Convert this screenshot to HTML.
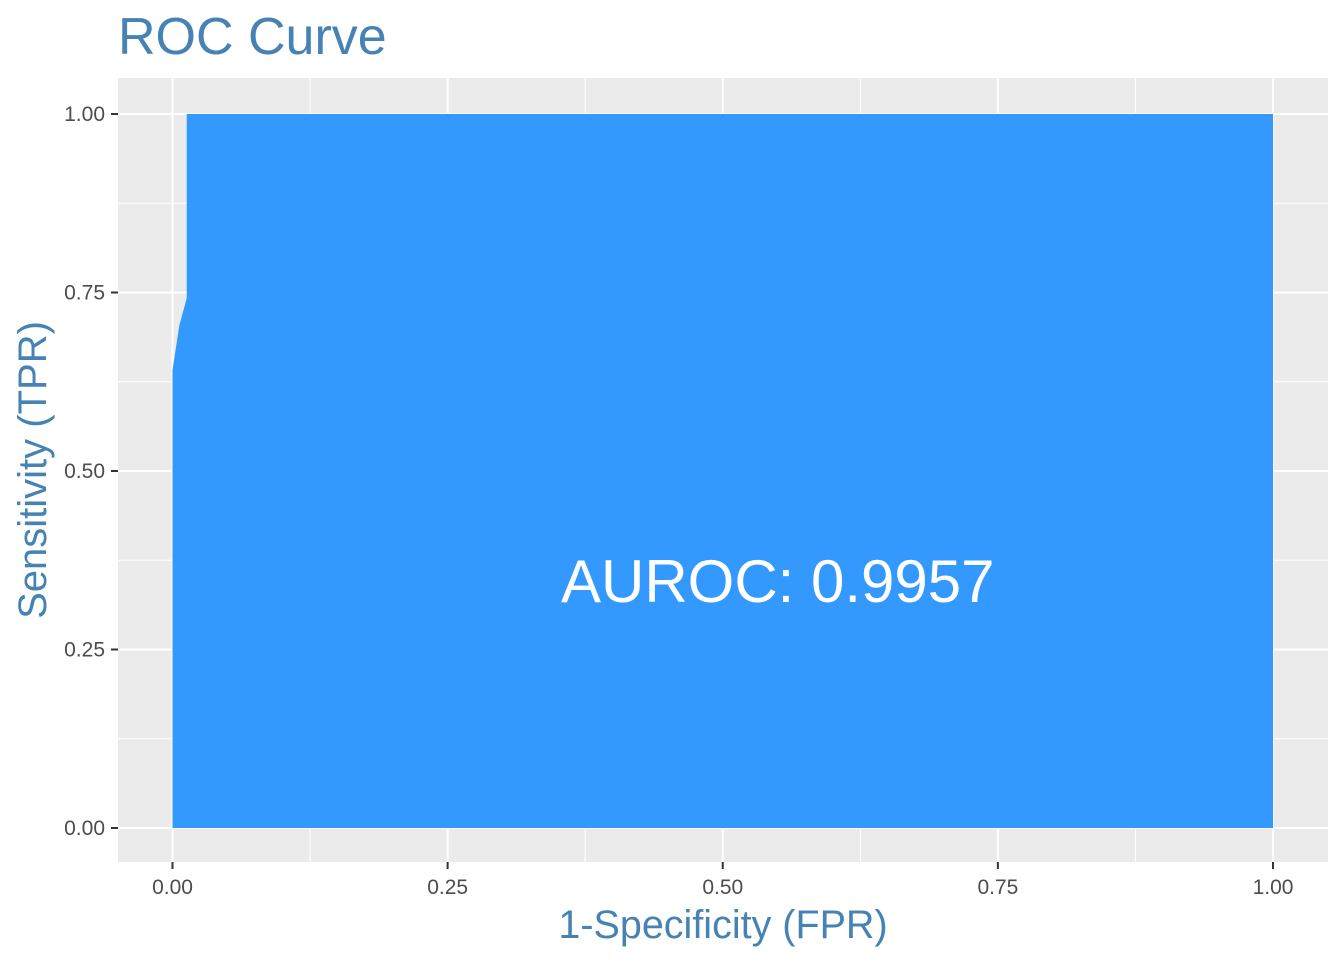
<!DOCTYPE html>
<html><head><meta charset="utf-8"><style>body{margin:0;background:#fff}svg{display:block}</style></head>
<body>
<svg id="c" width="1344" height="960" xmlns="http://www.w3.org/2000/svg" font-family="Liberation Sans, Arial, sans-serif">
<text x="118" y="54" font-size="52" fill="#4682B4">ROC Curve</text>
<rect x="118" y="78" width="1210" height="784" fill="#EBEBEB"/>
<g id="grid"></g>
<path id="area" fill="#3399FF"/>
<text id="auc" font-size="60" fill="#fff" text-anchor="middle"></text>
<g id="axes"></g>
<text x="723" y="938" font-size="39.5" fill="#4682B4" text-anchor="middle">1-Specificity (FPR)</text>
<text transform="translate(46,470) rotate(-90)" font-size="40" fill="#4682B4" text-anchor="middle">Sensitivity (TPR)</text>
</svg>
<script>
const fpr=[0,0,0.0062,0.0129,0.0129,1,1];
const tpr=[0,0.641,0.704,0.742,1,1,0];
const ticks=[0,0.25,0.5,0.75,1];
const tickLabels=["0.00","0.25","0.50","0.75","1.00"];
const aucText="AUROC: 0.9957";
const X=v=>172.5+v*1100.5, Y=v=>828-v*714;
const NS="http://www.w3.org/2000/svg";
function mk(t,a,p){const e=document.createElementNS(NS,t);for(const k in a)e.setAttribute(k,a[k]);p.appendChild(e);return e;}
const g=document.getElementById('grid'),ax=document.getElementById('axes');
[0.125,0.375,0.625,0.875].forEach(v=>{
 const l1=mk('line',{x1:X(v),x2:X(v),y1:78,y2:862,stroke:'#fff','stroke-width':1},g);
 
 const l2=mk('line',{x1:118,x2:1328,y1:Y(v),y2:Y(v),stroke:'#fff','stroke-width':1},g);
 
});
ticks.forEach((v,i)=>{
 const l1=mk('line',{x1:X(v),x2:X(v),y1:78,y2:862,stroke:'#fff','stroke-width':2},g);
 
 const l2=mk('line',{x1:118,x2:1328,y1:Y(v),y2:Y(v),stroke:'#fff','stroke-width':2},g);
 
 const t1=mk('line',{x1:X(v),x2:X(v),y1:862,y2:869,stroke:'#333','stroke-width':2},ax);
 
 const t2=mk('line',{x1:111,x2:118,y1:Y(v),y2:Y(v),stroke:'#333','stroke-width':2},ax);
 
 const a=mk('text',{x:X(v),y:894,'font-size':21,fill:'#4D4D4D','text-anchor':'middle'},ax);a.textContent=tickLabels[i];
 
 const b=mk('text',{x:105,y:Y(v)+7,'font-size':21,fill:'#4D4D4D','text-anchor':'end'},ax);b.textContent=tickLabels[i];
 
});
document.getElementById('area').setAttribute('d',fpr.map((f,i)=>(i?'L':'M')+X(f)+','+Y(tpr[i])).join('')+'Z');
const at=document.getElementById('auc');at.setAttribute('x',X(0.55));at.setAttribute('y',Y(0.3)-12);at.textContent=aucText;
</script>
</body></html>
